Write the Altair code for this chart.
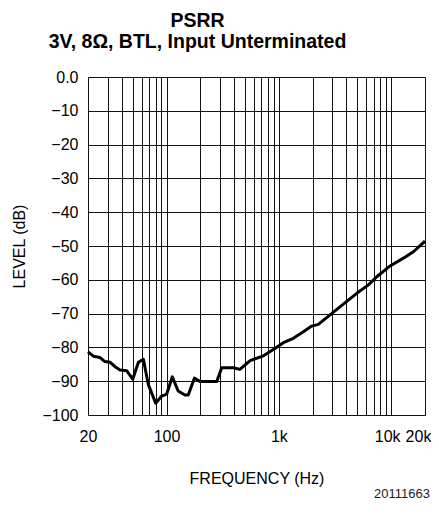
import altair as alt
import pandas as pd

# Data
freq = [20, 22.3, 25.6, 28.3, 31.5, 34.8, 38.6, 44.2, 50.0, 56.2, 62.2, 69.0, 80.1, 90.6,
        100.4, 112.6, 127, 146, 156, 177, 199, 280, 310, 394, 450, 555, 600, 728, 893,
        1097, 1346, 1652, 1963, 2246, 2858, 3750, 4940, 6270, 7440, 9780, 12850, 15770,
        19380, 20000]
level = [-81.3, -82.6, -83.0, -84.2, -84.4, -85.7, -86.7, -86.9, -89.4, -84.4, -83.5, -91.1,
         -96.5, -94.4, -93.8, -88.7, -92.9, -94.1, -94.1, -89.1, -90.1, -90.1, -86.0, -86.0,
         -86.5, -83.9, -83.5, -82.5, -80.6, -78.6, -77.3, -75.4, -73.7, -73.2, -70.4, -67.2,
         -64.0, -61.5, -59.1, -55.9, -53.6, -51.7, -49.0, -48.5]

x_grid = [20, 30, 40, 50, 60, 70, 80, 90, 100, 200, 300, 400, 500, 600, 700, 800, 900,
          1000, 2000, 3000, 4000, 5000, 6000, 7000, 8000, 9000, 10000, 20000]
y_ticks = [0, -10, -20, -30, -40, -50, -60, -70, -80, -90, -100]
title_lines = ["PSRR", "3V, 8\u03a9, BTL, Input Unterminated"]
footnote = ["20111663"]

FONT = "Liberation Sans"

df = pd.DataFrame({"f": freq, "db": level})

x_enc = alt.X(
    "f:Q",
    scale=alt.Scale(type="log", domain=[20, 20000], nice=False),
    axis=alt.Axis(
        values=x_grid,
        labelExpr="indexof([20,100,1000,10000,20000], datum.value) >= 0 ? "
                  "(datum.value >= 1000 ? (datum.value/1000) + 'k' : datum.value + '') : ''",
        labelOffset={"condition": [{"test": "datum.value == 20000", "value": -7},
                                   {"test": "datum.value == 10000", "value": -4}],
                     "value": 0},
        title="FREQUENCY (Hz)",
        grid=True, gridColor="#111", gridWidth=1, gridOpacity=1,
        ticks=False, domain=False,
        labelFont=FONT, labelFontSize=16, labelColor="black", labelPadding=13,
        labelOverlap=False, labelFlush=False,
        titleFont=FONT, titleFontSize=16, titleFontWeight="normal", titleColor="black",
        titlePadding=26,
    ),
)
y_enc = alt.Y(
    "db:Q",
    scale=alt.Scale(domain=[-100, 0], nice=False),
    axis=alt.Axis(
        values=y_ticks,
        labelExpr="datum.value == 0 ? '0.0' : datum.label",
        title="LEVEL (dB)",
        grid=True, gridColor="#111", gridWidth=1, gridOpacity=1,
        ticks=False, domain=False,
        labelFont=FONT, labelFontSize=16, labelColor="black", labelPadding=10,
        labelOverlap=False, labelFlush=False,
        titleFont=FONT, titleFontSize=16, titleFontWeight="normal", titleColor="black",
        titlePadding=14,
    ),
)

line = alt.Chart(df).mark_line(color="black", strokeWidth=3, strokeJoin="round").encode(
    x=x_enc, y=y_enc
)

note = alt.Chart(pd.DataFrame({"t": footnote})).mark_text(
    align="right", baseline="alphabetic", font=FONT, fontSize=13, color="#222"
).encode(text="t:N", x=alt.value(342), y=alt.value(421))

chart = alt.layer(line, note).properties(
    width=337,
    height=338,
    title=alt.Title(
        title_lines, font=FONT, fontSize=19.5, fontWeight="bold", color="black",
        anchor="middle", frame="group", dx=-59, offset=17, lineHeight=20.5,
    ),
    autosize=alt.AutoSizeParams(type="none"),
    padding={"left": 80, "top": 69, "right": 6, "bottom": 87},
).configure_view(stroke="black", strokeWidth=2).configure(background="white")

chart.save("out.html", embed_options={"renderer": "svg", "actions": False})
